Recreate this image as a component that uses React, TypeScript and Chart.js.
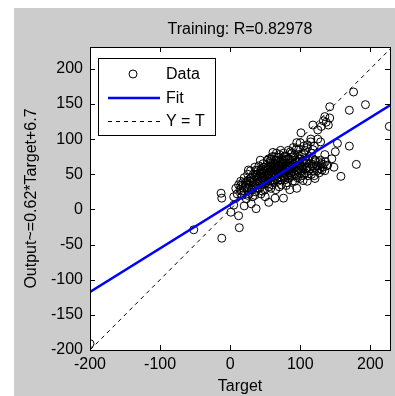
import React, { useEffect, useRef } from "react";
import { Chart, registerables } from "chart.js";

Chart.register(...registerables);

const TITLE = "Training: R=0.82978";
const X_LABEL = "Target";
const Y_LABEL = "Output~=0.62*Target+6.7";
const FIT_SLOPE = 0.62;
const FIT_INTERCEPT = 6.7;
const AXIS_MIN = -200;
const X_MAX = 228;
const Y_MAX = 231;
const X_TICKS = [-200, -100, 0, 100, 200];
const Y_TICKS = [-200, -150, -100, -50, 0, 50, 100, 150, 200];
const LEGEND_LABELS = ["Data", "Fit", "Y = T"];

// Data points: [target, output]
const POINTS: [number, number][] = [
  [5,18],[8,30],[10,22],[12,35],[14,28],[15,40],[17,20],[18,33],[20,26],[20,45],[22,38],[23,15],[24,30],[25,50],[26,42],[27,22],[28,35],[29,55],[30,28],[30,45],[31,38],[32,18],[33,50],[34,32],[35,42],[35,60],[36,25],[37,48],[38,36],[39,55],[40,30],[40,44],[41,62],[42,38],[43,50],[44,22],[45,45],[45,58],[46,35],[47,65],[48,42],[48,52],[49,28],[50,48],[50,60],[51,38],[52,55],[53,70],[54,44],[55,32],[55,50],[56,62],[57,40],[58,55],[58,72],[59,46],[60,35],[60,58],[61,66],[62,50],[63,42],[63,75],[64,56],[65,28],[65,62],[66,48],[67,70],[68,54],[68,40],[69,60],[70,45],[70,78],[71,52],[72,65],[73,35],[73,58],[74,70],[75,48],[75,62],[76,80],[77,55],[78,42],[78,68],[79,60],[80,50],[80,75],[81,38],[82,64],[83,56],[84,72],[85,45],[85,60],[86,82],[87,52],[88,68],[89,40],[90,58],[90,75],[91,64],[92,50],[93,70],[94,85],[95,56],[96,45],[96,66],[97,78],[98,60],[99,52],[100,72],[100,62],[102,48],[103,68],[104,58],[105,80],[106,65],[107,52],[108,70],[110,60],[110,88],[112,55],[113,75],[115,65],[116,50],[118,72],[120,60],[122,68],[124,55],[125,62],[128,58],[130,65],[132,60],[135,55],[138,62],
  [45,52],[52,46],[57,60],[62,58],[66,55],[70,62],[74,52],[78,58],[82,48],[86,66],[60,48],[64,66],[68,46],[72,56],[76,66],[80,58],[84,62],[88,55],[56,52],[54,60],
  [21,32],[24,40],[27,30],[29,44],[32,28],[33,40],[36,34],[37,56],[39,42],[41,48],[42,30],[44,56],[46,44],[47,52],[49,40],[51,58],[53,48],[54,36],[56,44],[57,68],[59,54],[61,40],[62,62],[64,48],[65,70],[67,44],[67,58],[69,52],[71,68],[72,42],[73,62],[75,55],[76,72],[77,46],[79,66],[81,55],[82,72],[83,44],[84,52],[86,58],[87,74],[88,48],[89,62],[91,54],[92,78],[93,60],[94,48],[95,68],[97,56],[98,72],[99,64],[101,55],[102,78],[103,60],[105,50],[106,72],[108,58],[109,66],[111,48],[112,70],[114,58],[116,80],[117,62],[119,55],[121,70],[123,62],[126,68],[127,52],[129,70],[131,56],[133,64],[136,68],[118,85],[105,90],[98,86],[88,80],[78,76],[68,74],[58,66],[48,60],[38,50],[28,40],[18,38],[16,26],[25,20],[35,20],[46,26],[58,30],[70,32],[80,34],[92,40],[100,44],[60,75],[72,84],[55,72],[66,80],
  [101,109],[107,84],[115,96],[118,120],[125,113],[129,96],[130,118],[133,126],[137,124],[140,120],[142,130],[135,132],[139,63],[121,44],[104,41],[83,84],[61,81],[115,100],[120,90],[110,92],[125,100],[95,95],[90,88],[100,95],
  [-200,-191],[-52,-29],[-12,-41],[-13,23],[-12,16],[13,-26],[1,-4],[5,6],[12,-9],[37,1],[76,16],[64,16],[180,64],[158,47],[170,90],[153,94],[176,167],[193,149],[170,141],[142,146],[227,118],[15,34],[26,56],[43,70],[20,5],[30,8],[50,18],[55,10],[85,28],[95,30],[110,40],[120,48],[135,78],[145,72],[150,82],[148,60]
];
const TARGETS = POINTS.map((p) => p[0]);
const OUTPUTS = POINTS.map((p) => p[1]);

const FONT = "'Liberation Sans', Arial, sans-serif";

const matlabPlugin = {
  id: "matlab",
  beforeDraw(chart: any) {
    const { ctx } = chart;
    ctx.save();
    ctx.fillStyle = "#ffffff";
    ctx.fillRect(0, 0, chart.width, chart.height);
    ctx.fillStyle = "#cccccc";
    ctx.fillRect(14, 8, chart.width - 14, chart.height - 8);
    const a = chart.chartArea;
    ctx.fillStyle = "#ffffff";
    ctx.fillRect(a.left, a.top, a.right - a.left, a.bottom - a.top);
    ctx.restore();
  },
  afterDraw(chart: any) {
    const { ctx } = chart;
    const a = chart.chartArea;
    const xs = chart.scales.x;
    const ys = chart.scales.y;
    ctx.save();
    ctx.strokeStyle = "#000";
    ctx.lineWidth = 1;
    ctx.setLineDash([]);
    ctx.beginPath();
    const tl = 5;
    xs.ticks.forEach((t: any) => {
      const px = Math.round(xs.getPixelForValue(t.value)) + 0.5;
      ctx.moveTo(px, a.bottom);
      ctx.lineTo(px, a.bottom - tl);
      ctx.moveTo(px, a.top);
      ctx.lineTo(px, a.top + tl);
    });
    ys.ticks.forEach((t: any) => {
      const py = Math.round(ys.getPixelForValue(t.value)) + 0.5;
      ctx.moveTo(a.left, py);
      ctx.lineTo(a.left + tl, py);
      ctx.moveTo(a.right, py);
      ctx.lineTo(a.right - tl, py);
    });
    ctx.stroke();
    ctx.strokeRect(Math.round(a.left) + 0.5, Math.round(a.top) + 0.5, Math.round(a.right - a.left), Math.round(a.bottom - a.top));

    // legend
    const lx = a.left + 8;
    const ly = a.top + 11;
    const lw = 117;
    const lh = 77;
    ctx.fillStyle = "#fff";
    ctx.fillRect(lx, ly, lw, lh);
    ctx.strokeRect(lx + 0.5, ly + 0.5, lw, lh);
    const ds = chart.data.datasets;
    const rows = [ly + 16, ly + 39.5, ly + 63];
    ctx.font = `16px ${FONT}`;
    ctx.textBaseline = "middle";
    ctx.textAlign = "left";
    ds.forEach((d: any, i: number) => {
      const y = rows[i];
      ctx.save();
      if (i === 0) {
        ctx.beginPath();
        ctx.arc(lx + 35, y, 4, 0, Math.PI * 2);
        ctx.strokeStyle = "#000";
        ctx.lineWidth = 1;
        ctx.stroke();
      } else {
        ctx.beginPath();
        ctx.strokeStyle = d.borderColor;
        ctx.lineWidth = d.borderWidth;
        ctx.setLineDash(d.borderDash || []);
        ctx.moveTo(lx + 10, y + 0.5);
        ctx.lineTo(lx + 62, y + 0.5);
        ctx.stroke();
      }
      ctx.restore();
      ctx.fillStyle = "#000";
      ctx.fillText(d.label, lx + 68, y + 1);
    });
    ctx.restore();
  },
};

export default function App() {
  const ref = useRef<HTMLCanvasElement | null>(null);
  useEffect(() => {
    if (!ref.current) return;
    const chart = new Chart(ref.current, {
      type: "scatter",
      data: {
        datasets: [
          {
            label: LEGEND_LABELS[0],
            data: TARGETS.map((t, i) => ({ x: t, y: OUTPUTS[i] })),
            pointStyle: "circle",
            pointRadius: 4,
            pointBorderWidth: 1,
            borderColor: "#000",
            pointBorderColor: "#000",
            backgroundColor: "rgba(0,0,0,0)",
            pointBackgroundColor: "rgba(0,0,0,0)",
            order: 3,
          },
          {
            label: LEGEND_LABELS[1],
            data: [AXIS_MIN, X_MAX].map((x) => ({ x, y: FIT_SLOPE * x + FIT_INTERCEPT })),
            showLine: true,
            borderColor: "#0000ff",
            borderWidth: 2.5,
            pointRadius: 0,
            order: 2,
          },
          {
            label: LEGEND_LABELS[2],
            data: [AXIS_MIN, Math.max(X_MAX, Y_MAX)].map((x) => ({ x, y: x })),
            showLine: true,
            borderColor: "#000",
            borderWidth: 1,
            borderDash: [4, 4],
            pointRadius: 0,
            order: 1,
          },
        ],
      },
      options: {
        animation: false,
        responsive: false,
        maintainAspectRatio: false,
        layout: { padding: { left: 0, right: 2, top: 0, bottom: 0 } },
        plugins: {
          legend: { display: false },
          tooltip: { enabled: false },
          title: {
            display: true,
            text: TITLE,
            fullSize: false,
            color: "#000",
            font: { family: FONT, size: 16, weight: "normal" },
            padding: { top: 20.4, bottom: 7.4 },
          },
        },
        scales: {
          x: {
            type: "linear",
            min: AXIS_MIN,
            max: X_MAX,
            afterFit: (s: any) => { s.height = 46; },
            afterBuildTicks: (s: any) => { s.ticks = X_TICKS.map((v) => ({ value: v })); },
            ticks: { color: "#000", font: { family: FONT, size: 16 }, padding: 5, maxRotation: 0, autoSkip: false, includeBounds: false },
            grid: { display: false, drawTicks: false },
            border: { display: false },
            title: { display: true, text: X_LABEL, color: "#000", font: { family: FONT, size: 16 }, padding: { top: 0, bottom: 0 } },
          },
          y: {
            type: "linear",
            min: AXIS_MIN,
            max: Y_MAX,
            afterFit: (s: any) => { s.width = 90; },
            afterBuildTicks: (s: any) => { s.ticks = Y_TICKS.map((v) => ({ value: v })); },
            ticks: { color: "#000", font: { family: FONT, size: 16 }, padding: 7, autoSkip: false, includeBounds: false },
            grid: { display: false, drawTicks: false },
            border: { display: false },
            title: { display: true, text: Y_LABEL, color: "#000", font: { family: FONT, size: 16 }, padding: { top: 22.4, bottom: 0 } },
          },
        },
      },
      plugins: [matlabPlugin],
    });
    return () => chart.destroy();
  }, []);
  return (
    <div style={{ position: "absolute", left: 0, top: 0, width: 395, height: 396 }}>
      <canvas ref={ref} width={395} height={396} style={{ width: 395, height: 396, display: "block" }} />
    </div>
  );
}
